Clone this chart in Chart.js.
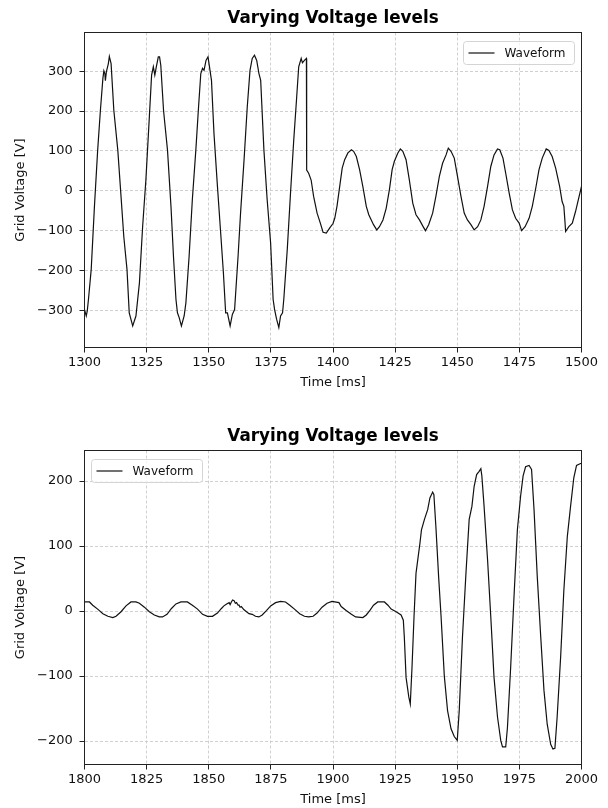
<!DOCTYPE html>
<html>
<head>
<meta charset="utf-8">
<title>Varying Voltage levels</title>
<script src="https://cdn.jsdelivr.net/npm/chart.js@4.4.1/dist/chart.umd.min.js"></script>
<style>
  html, body { margin: 0; padding: 0; background: #fff; }
  #wrap { position: relative; width: 608px; height: 808px; }
  canvas { position: absolute; left: 0; }
  #topChart { top: 0; }
  #bottomChart { top: 404px; }
</style>
</head>
<body>
<div id="wrap">
  <canvas id="topChart" width="608" height="404"></canvas>
  <canvas id="bottomChart" width="608" height="404"></canvas>
</div>
<script>
// time axis (ms) and grid voltage (V)
const timeTop = [
  1300.0, 1300.7, 1301.1, 1301.6, 1302.7, 1304.0, 1305.3, 1306.4, 1307.4, 1307.8,
  1308.2, 1308.4, 1308.8, 1309.6, 1310.0, 1310.7, 1311.8, 1313.4, 1314.7, 1315.8,
  1317.1, 1318.0, 1319.4, 1320.7, 1322.1, 1323.4, 1324.7, 1326.1, 1327.0, 1327.7,
  1328.3, 1328.9, 1329.7, 1330.2, 1330.7, 1331.8, 1333.4, 1334.8, 1335.8, 1336.8,
  1337.4, 1338.1, 1339.0, 1340.1, 1340.8, 1342.1, 1343.4, 1344.8, 1345.9, 1346.8,
  1347.5, 1348.1, 1348.9, 1349.7, 1350.3, 1351.1, 1352.1, 1353.5, 1354.8, 1355.9,
  1356.8, 1357.5, 1358.6, 1359.5, 1360.4, 1361.8, 1362.8, 1364.2, 1365.5, 1366.6,
  1367.5, 1368.4, 1369.3, 1370.2, 1370.9, 1372.2, 1373.5, 1374.9, 1375.9, 1376.5,
  1377.3, 1378.2, 1378.9, 1379.7, 1380.2, 1381.6, 1382.9, 1384.2, 1385.3, 1386.2,
  1387.2, 1387.7, 1388.5, 1389.3, 1389.4, 1390.2, 1391.2, 1392.2, 1393.6, 1394.9,
  1396.0, 1397.3, 1398.7, 1400.0, 1400.7, 1401.6, 1402.7, 1403.7, 1404.7, 1406.0,
  1407.4, 1408.3, 1409.4, 1410.7, 1412.0, 1413.4, 1414.4, 1415.4, 1416.3, 1417.6,
  1418.7, 1420.1, 1421.4, 1422.7, 1423.8, 1424.7, 1426.1, 1427.1, 1428.1, 1429.4,
  1430.7, 1432.1, 1433.4, 1434.8, 1436.1, 1437.2, 1438.5, 1440.1, 1441.4, 1442.8,
  1444.1, 1445.5, 1446.4, 1447.5, 1448.8, 1450.1, 1451.5, 1452.8, 1454.1, 1455.5,
  1456.8, 1458.2, 1459.5, 1460.8, 1462.2, 1463.5, 1464.8, 1466.2, 1467.1, 1468.4,
  1469.5, 1470.9, 1472.2, 1473.5, 1474.9, 1475.9, 1477.3, 1478.9, 1480.2, 1481.6,
  1482.9, 1484.2, 1485.8, 1486.9, 1488.2, 1489.6, 1491.2, 1492.2, 1492.9, 1493.3,
  1493.6, 1494.9, 1496.3, 1497.6, 1498.9, 1500.0
];
const voltTop = [
  -298, -314, -302, -272, -197, -39, 102, 202, 282, 301,
  294, 276, 298, 319, 337, 319, 202, 102, -14, -114,
  -197, -306, -339, -314, -231, -89, 27, 186, 290, 311,
  290, 311, 336, 336, 315, 202, 102, -39, -164, -272,
  -306, -318, -339, -314, -281, -164, -22, 102, 211, 294,
  307, 302, 327, 336, 311, 277, 144, 11, -106, -206,
  -306, -306, -339, -310, -298, -164, -56, 77, 211, 302,
  332, 340, 327, 294, 277, 102, -22, -131, -272, -298,
  -322, -343, -314, -306, -272, -147, -6, 127, 227, 311,
  332, 321, 327, 332, 52, 44, 27, -14, -56, -81,
  -104, -106, -93, -82, -69, -39, 11, 57, 78, 95,
  103, 99, 86, 53, 11, -39, -60, -73, -85, -98,
  -90, -73, -44, 3, 53, 74, 95, 105, 99, 78,
  28, -31, -60, -73, -88, -100, -85, -56, -14, 36,
  69, 90, 107, 99, 82, 36, -14, -56, -73, -85,
  -98, -90, -73, -39, 11, 61, 90, 105, 103, 82,
  44, -6, -48, -69, -81, -100, -90, -69, -39, 7,
  53, 82, 105, 101, 86, 57, 11, -27, -39, -73,
  -102, -90, -81, -52, -18, 11
];

const timeBottom = [
  1800.0, 1802.0, 1803.3, 1805.3, 1807.4, 1809.4, 1811.4, 1812.7, 1814.7, 1816.7,
  1818.7, 1820.7, 1822.1, 1824.1, 1826.1, 1828.1, 1830.1, 1831.4, 1833.2, 1835.0,
  1836.8, 1838.8, 1841.4, 1843.4, 1845.5, 1847.5, 1849.5, 1851.5, 1853.5, 1855.1,
  1856.1, 1857.2, 1858.2, 1858.6, 1859.1, 1859.6, 1860.2, 1860.7, 1861.2, 1861.8,
  1862.2, 1862.6, 1863.1, 1864.2, 1865.2, 1866.2, 1867.5, 1868.8, 1870.2, 1871.5,
  1873.3, 1874.9, 1876.9, 1878.9, 1880.9, 1882.6, 1884.5, 1886.6, 1888.5, 1890.2,
  1892.0, 1893.6, 1895.6, 1897.6, 1899.6, 1902.4, 1903.3, 1905.3, 1907.4, 1909.1,
  1912.0, 1913.4, 1915.0, 1916.3, 1918.0, 1920.7, 1922.1, 1923.4, 1925.4, 1927.4,
  1928.3, 1928.7, 1929.4, 1930.5, 1931.1, 1931.8, 1932.6, 1933.4, 1935.0, 1935.6,
  1936.8, 1938.1, 1939.0, 1940.1, 1940.6, 1941.4, 1942.5, 1943.5, 1944.8, 1946.1,
  1947.5, 1948.8, 1950.0, 1950.8, 1952.1, 1953.5, 1954.8, 1955.9, 1956.8, 1957.8,
  1958.8, 1959.5, 1959.9, 1960.8, 1962.2, 1963.5, 1964.8, 1966.2, 1967.5, 1968.2,
  1969.5, 1970.2, 1971.5, 1972.9, 1974.2, 1975.5, 1976.5, 1977.5, 1978.9, 1979.9,
  1980.9, 1982.2, 1983.6, 1984.9, 1986.2, 1987.6, 1988.5, 1989.3, 1990.2, 1991.6,
  1992.9, 1994.3, 1995.6, 1996.9, 1998.0, 1999.6, 2000.0
];
const voltBottom = [
  14, 14, 9, 3, -4, -8, -10, -8, -1, 8,
  14, 14, 12, 6, -1, -6, -9, -9, -5, 4,
  11, 14, 14, 9, 3, -5, -8, -8, -3, 4,
  8, 11, 13, 10, 14, 17, 16, 12, 13, 9,
  9, 6, 7, 2, -1, -4, -5, -8, -9, -6,
  1, 8, 13, 15, 14, 9, 3, -4, -8, -9,
  -8, -3, 6, 12, 15, 13, 7, 1, -5, -9,
  -10, -6, 2, 9, 14, 14, 9, 3, -1, -6,
  -14, -40, -102, -132, -143, -86, -9, 58, 105, 125,
  141, 156, 174, 183, 179, 130, 53, -9, -100, -153,
  -181, -193, -199, -153, -40, 58, 141, 161, 192, 210,
  215, 219, 208, 161, 79, -9, -102, -163, -199, -209,
  -209, -179, -86, 27, 125, 177, 208, 222, 224, 218,
  156, 53, -40, -122, -174, -205, -212, -211, -163, -71,
  32, 115, 161, 205, 224, 227, 227
];

// tick labels
const xTicksTop = [1300, 1325, 1350, 1375, 1400, 1425, 1450, 1475, 1500];
const xTicksBottom = [1800, 1825, 1850, 1875, 1900, 1925, 1950, 1975, 2000];
const yTicksTop = [-300, -200, -100, 0, 100, 200, 300];
const yTicksBottom = [-200, -100, 0, 100, 200];

Chart.defaults.font.family = '"DejaVu Sans", sans-serif';
Chart.defaults.color = '#111';

// matplotlib-like box around the axes, title centred over the axes
var framePlugin = {
    id: 'frame',
    afterDraw: function (chart, args, opts) {
        var a = chart.chartArea, ctx = chart.ctx;
        ctx.save();
        ctx.strokeStyle = '#222';
        ctx.lineWidth = 1;
        ctx.strokeRect(a.left, a.top, a.right - a.left, a.bottom - a.top);
        ctx.fillStyle = '#000';
        ctx.font = 'bold 16.8px "DejaVu Sans"';
        ctx.textAlign = 'center';
        ctx.textBaseline = 'alphabetic';
        ctx.fillText(opts.title, (a.left + a.right) / 2, a.top - 9.2);
        ctx.restore();
    }
};

// legend drawn inside the plot area
var boxLegend = {
    id: 'boxLegend',
    afterDraw: function (chart, args, opts) {
        var a = chart.chartArea, ctx = chart.ctx;
        var w = 111, h = 23;
        var x = opts.side === 'left' ? a.left + 6.5 : a.right - 8 - w;
        x = Math.round(x) + 0.5;
        var y = Math.round(a.top + 8) + 0.5;
        var ds = chart.data.datasets[0];
        ctx.save();
        ctx.beginPath();
        if (ctx.roundRect) {
            ctx.roundRect(x, y, w, h, 3);
        } else {
            ctx.rect(x, y, w, h);
        }
        ctx.fillStyle = 'rgba(255,255,255,0.8)';
        ctx.fill();
        ctx.strokeStyle = '#d4d4d4';
        ctx.lineWidth = 1;
        ctx.stroke();
        ctx.beginPath();
        ctx.moveTo(x + 5, y + h / 2);
        ctx.lineTo(x + 31, y + h / 2);
        ctx.strokeStyle = ds.borderColor;
        ctx.lineWidth = ds.borderWidth;
        ctx.stroke();
        ctx.fillStyle = '#111';
        ctx.font = '12px "DejaVu Sans"';
        ctx.textBaseline = 'middle';
        ctx.textAlign = 'left';
        ctx.fillText(ds.label, x + 41, y + h / 2 + 0.5);
        ctx.restore();
    }
};

function makeChart(id, times, volts, xTicks, yTicks, cfg) {
    var ctx = document.getElementById(id).getContext('2d');
    var points = times.map(function (t, i) { return { x: t, y: volts[i] }; });
    var gridOpts = {
        color: '#c4c4c4',
        lineWidth: 0.8,
        drawTicks: true,
        tickLength: 5,
        tickColor: '#222',
        tickWidth: 1,
        tickBorderDash: []
    };
    return new Chart(ctx, {
        type: 'line',
        data: {
            datasets: [{
                label: 'Waveform',
                data: points,
                borderColor: '#111',
                borderWidth: 1.2,
                pointRadius: 0,
                tension: 0,
                fill: false
            }]
        },
        options: {
            responsive: false,
            animation: false,
            devicePixelRatio: 1,
            layout: { padding: { left: 0, right: 26.5, top: cfg.areaTop, bottom: 0 } },
            plugins: {
                legend: { display: false },
                tooltip: { enabled: false },
                title: { display: false },
                frame: { title: 'Varying Voltage levels' },
                boxLegend: { side: cfg.legendSide }
            },
            scales: {
                x: {
                    type: 'linear',
                    min: xTicks[0],
                    max: xTicks[xTicks.length - 1],
                    afterBuildTicks: function (s) {
                        s.ticks = xTicks.map(function (v) { return { value: v }; });
                    },
                    afterFit: function (s) { s.height = cfg.xHeight; },
                    grid: gridOpts,
                    border: { display: false, dash: [3, 2] },
                    ticks: {
                        font: { size: 13 },
                        color: '#111',
                        padding: 2.8,
                        maxRotation: 0,
                        autoSkip: false,
                        callback: function (v) { return String(v); }
                    },
                    title: {
                        display: true,
                        text: 'Time [ms]',
                        color: '#111',
                        font: { size: 13 },
                        padding: { top: 0, bottom: cfg.xTitleBottom }
                    }
                },
                y: {
                    type: 'linear',
                    min: cfg.yMin,
                    max: cfg.yMax,
                    afterBuildTicks: function (s) {
                        s.ticks = yTicks.map(function (v) { return { value: v }; });
                    },
                    afterFit: function (s) { s.width = 84.5; },
                    grid: gridOpts,
                    border: { display: false, dash: [3, 2] },
                    ticks: {
                        font: { size: 13 },
                        color: '#111',
                        padding: 6.8,
                        callback: function (v) { return String(v).replace('-', '\u2212'); }
                    },
                    title: {
                        display: true,
                        text: 'Grid Voltage [V]',
                        color: '#111',
                        font: { size: 13 },
                        padding: { top: 12.7, bottom: 0 }
                    }
                }
            }
        },
        plugins: [framePlugin, boxLegend]
    });
}

makeChart('topChart', timeTop, voltTop, xTicksTop, yTicksTop, {
    yMin: -393, yMax: 397,
    areaTop: 32.5,
    xHeight: 56.5, xTitleBottom: 13.2,
    legendSide: 'right'
});

makeChart('bottomChart', timeBottom, voltBottom, xTicksBottom, yTicksBottom, {
    yMin: -236, yMax: 247,
    areaTop: 46.5,
    xHeight: 43.5, xTitleBottom: 0.2,
    legendSide: 'left'
});
</script>
</body>
</html>
